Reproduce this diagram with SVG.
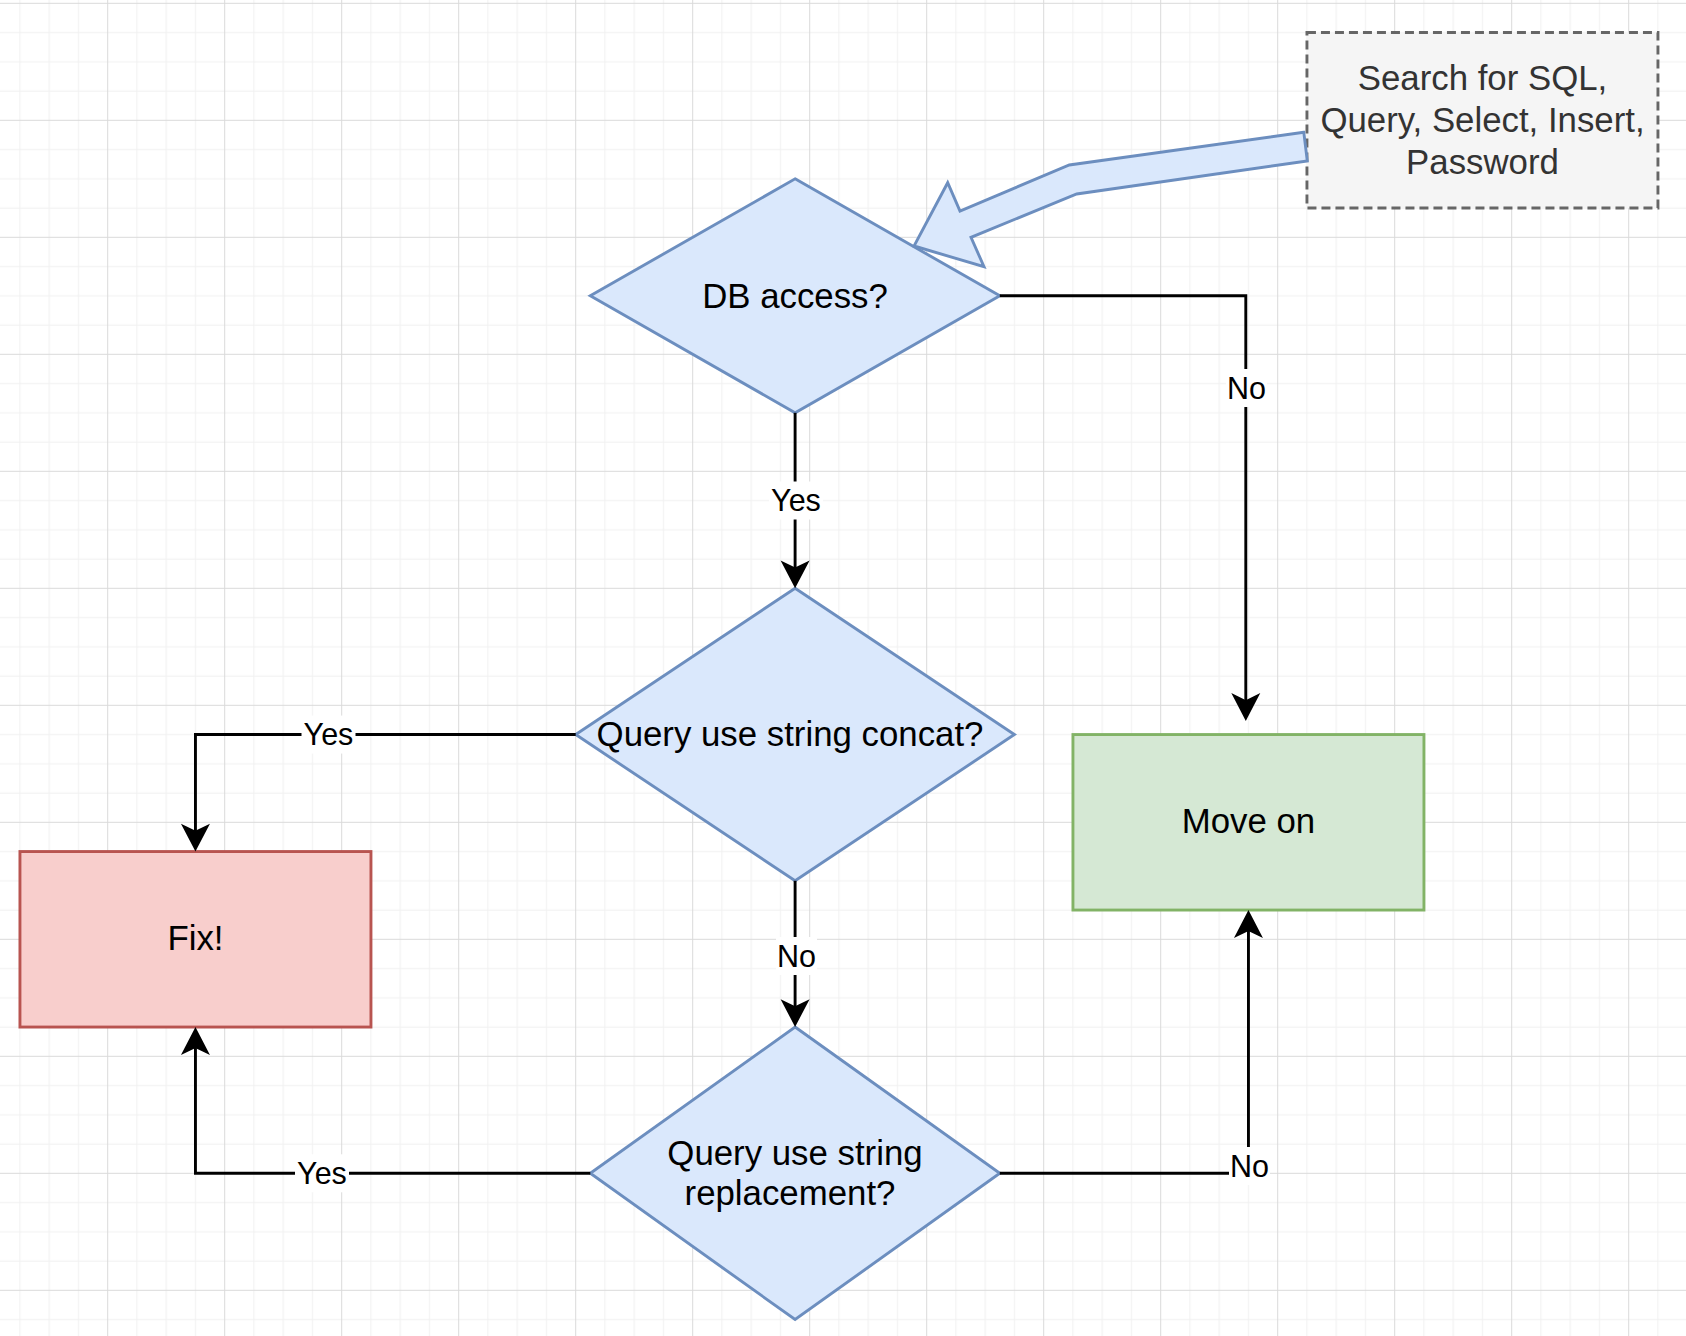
<svg xmlns="http://www.w3.org/2000/svg" width="1686" height="1336" viewBox="0 0 1686 1336">
  <defs>
    <style>
      .txt{font-family:"Liberation Sans",Arial,Helvetica,sans-serif;font-size:34.8px;fill:#000000;text-anchor:middle}
      .grey{fill:#333333}
      .lbl{font-family:"Liberation Sans",Arial,Helvetica,sans-serif;font-size:30.5px;fill:#000000;text-anchor:middle}
      .lblbg{fill:#ffffff}
      .edge{fill:none;stroke:#000000;stroke-width:2.9;marker-end:url(#arrow)}
      .decision{fill:#dae8fc;stroke:#6c8ebf;stroke-width:2.9;stroke-linejoin:miter}
      .fix{fill:#f8cecc;stroke:#b85450;stroke-width:2.9}
      .ok{fill:#d5e8d4;stroke:#82b366;stroke-width:2.9}
      .note{fill:#f5f5f5;stroke:#666666;stroke-width:2.9;stroke-dasharray:9 5}
      .flex{fill:#dae8fc;stroke:#6c8ebf;stroke-width:2.9;stroke-linejoin:miter}
    </style>
    <pattern id="grid" x="107.2" y="2.8" width="117" height="117" patternUnits="userSpaceOnUse">
      <path d="M29.75,0 V117 M59,0 V117 M88.25,0 V117 M0,29.75 H117 M0,59 H117 M0,88.25 H117" fill="none" stroke="#f0f0f0" stroke-width="1"/>
      <path d="M0.5,0 V117 M0,0.5 H117" fill="none" stroke="#dadada" stroke-width="1"/>
    </pattern>
    <marker id="arrow" markerUnits="userSpaceOnUse" markerWidth="40" markerHeight="40" viewBox="-20 -20 40 40" refX="0" refY="0" orient="auto" overflow="visible">
      <path d="M10.8,0 L-10.7,-11.2 L-5.3,0 L-10.7,11.2 Z" fill="#000000" stroke="#000000" stroke-width="2.9" stroke-linejoin="miter"/>
    </marker>
  </defs>

  <rect x="0" y="0" width="1686" height="1336" fill="#ffffff"/>
  <rect x="0" y="0" width="1686" height="1336" fill="url(#grid)"/>

  <g id="node-db-access">
    <polygon class="decision" points="795.1,178.8 999.8,295.8 795.1,412.8 590.3,295.8"/>
    <text class="txt" x="795" y="307.5">DB access?</text>
  </g>

  <g id="node-concat">
    <polygon class="decision" points="795.1,588.3 1014.4,734.55 795.1,880.8 575.7,734.55"/>
    <text class="txt" x="790" y="745.5">Query use string concat?</text>
  </g>

  <g id="node-replacement">
    <polygon class="decision" points="795.1,1027.05 999.8,1173.3 795.1,1319.55 590.3,1173.3"/>
    <text class="txt" x="795" y="1165">Query use string</text>
    <text class="txt" x="790" y="1205">replacement?</text>
  </g>

  <g id="node-fix">
    <rect class="fix" x="19.95" y="851.55" width="351" height="175.5"/>
    <text class="txt" x="195.5" y="950">Fix!</text>
  </g>

  <g id="node-move-on">
    <rect class="ok" x="1072.95" y="734.55" width="351" height="175.5"/>
    <text class="txt" x="1248.5" y="833">Move on</text>
  </g>

  <g id="node-search">
    <rect class="note" x="1306.95" y="32.55" width="351" height="175.5"/>
    <text class="txt grey" x="1482.5" y="90">Search for SQL,</text>
    <text class="txt grey" x="1482.5" y="132">Query, Select, Insert,</text>
    <text class="txt grey" x="1482.5" y="174">Password</text>
  </g>

  <g id="connectors">
    <polygon class="flex" points="1303.8,132.3 1069.3,165 960,211 947.7,182.7 914,246 984,266.7 971,237.3 1076.7,194 1307.3,161"/>

    <path class="edge" d="M795.1,412.8 V574.3"/>
    <path class="edge" d="M999.8,295.8 H1245.8 V707"/>
    <path class="edge" d="M575.7,734.55 H195.45 V837.55"/>
    <path class="edge" d="M795.1,880.8 V1013.05"/>
    <path class="edge" d="M590.3,1173.3 H195.45 V1041.05"/>
    <path class="edge" d="M999.8,1173.3 H1248.45 V924.05"/>

    <rect class="lblbg" x="769" y="481.5" width="54" height="38"/>
    <text class="lbl" x="796" y="511.1">Yes</text>

    <rect class="lblbg" x="1226" y="369" width="41" height="38"/>
    <text class="lbl" x="1246.5" y="398.6">No</text>

    <rect class="lblbg" x="301.5" y="715.55" width="54" height="38"/>
    <text class="lbl" x="328.5" y="745.2">Yes</text>

    <rect class="lblbg" x="776" y="937" width="41" height="38"/>
    <text class="lbl" x="796.5" y="966.6">No</text>

    <rect class="lblbg" x="295" y="1154.3" width="54" height="38"/>
    <text class="lbl" x="322" y="1183.9">Yes</text>

    <rect class="lblbg" x="1229" y="1147" width="41" height="38"/>
    <text class="lbl" x="1249.5" y="1176.6">No</text>
  </g>
</svg>
